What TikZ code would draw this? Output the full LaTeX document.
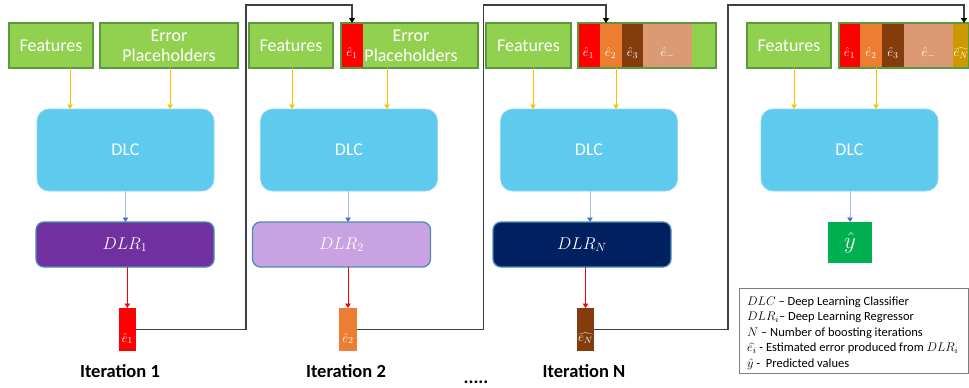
\RequirePackage{fix-cm}
\documentclass[tikz,border=0pt]{standalone}
\usepackage{fontspec}
\setmainfont{Carlito}
\usetikzlibrary{arrows.meta}
\definecolor{fgreen}{HTML}{92D050}
\definecolor{fborder}{HTML}{5A9A3A}
\definecolor{dlcblue}{HTML}{5DCAEE}
\definecolor{dlcedge}{HTML}{8ED9F3}
\definecolor{dlrborder}{HTML}{4A8CB4}
\definecolor{dlrone}{HTML}{7030A0}
\definecolor{dlrtwo}{HTML}{C8A2E2}
\definecolor{dlrn}{HTML}{002060}
\definecolor{ered}{HTML}{FF0000}
\definecolor{eorange}{HTML}{ED7D31}
\definecolor{ebrown}{HTML}{843C0C}
\definecolor{esalmon}{HTML}{DC9A74}
\definecolor{egold}{HTML}{CC9900}
\definecolor{ygreen}{HTML}{00B050}
\definecolor{yarrowc}{HTML}{FFC000}
\definecolor{bline}{HTML}{A9BEE6}
\definecolor{bhead}{HTML}{4472C4}
\definecolor{connc}{HTML}{404040}
\definecolor{legedge}{HTML}{7F7F7F}
\tikzset{
  feat/.style={rectangle, fill=fgreen, draw=fborder, line width=1.3pt, text=white,
    font=\fontsize{18}{20}\selectfont, inner sep=0pt, outer sep=0pt, minimum height=45pt},
  ftext/.style={text=white, font=\fontsize{18}{20}\selectfont, inner sep=0pt},
  dlc/.style={rectangle, rounded corners=12pt, fill=dlcblue, draw=dlcedge, line width=0.8pt,
    text=white, font=\fontsize{18}{20}\selectfont, minimum width=177pt, minimum height=82pt,
    inner sep=0pt, outer sep=0pt},
  dlr/.style={rectangle, rounded corners=8pt, draw=dlrborder, line width=1.3pt, text=white,
    font=\fontsize{17}{19}\selectfont, minimum width=178pt, minimum height=45pt,
    inner sep=0pt, outer sep=0pt},
  ebox/.style={rectangle, inner sep=0pt, outer sep=0pt, minimum width=17.5pt, minimum height=43pt},
  elab/.style={text=white, font=\fontsize{13}{14}\selectfont, inner sep=0pt},
  yarr/.style={draw=yarrowc, line width=0.9pt, -{Triangle[width=5.5pt,length=4.5pt]}},
  barr/.style={draw=bline, line width=0.9pt, -{Triangle[width=5.5pt,length=4.5pt,color=bhead]}},
  rarr/.style={draw=ered, line width=0.9pt, -{Triangle[width=5.5pt,length=4.5pt]}},
  conn/.style={draw=connc, line width=1.2pt, -{Triangle[width=6pt,length=5pt,color=black]}},
  iter/.style={font=\bfseries\fontsize{18.5}{20}\selectfont, anchor=base, inner sep=0pt}
}
\begin{document}
\begin{tikzpicture}[x=1pt,y=-1pt]
\useasboundingbox (0,0) rectangle (969,388);

% ---------- Iteration 1
\node[feat,minimum width=84pt] (f1) at (51,45.5) {Features};
\node[feat,minimum width=138pt,align=center] (err1) at (169,45.5) {Error\\Placeholders};
\node[dlc] (d1) at (125.5,150) {DLC};
\node[dlr,fill=dlrone] (r1) at (125,244.5) {$DLR_1$};
\node[ebox,fill=ered] (e1) at (127.3,329.5) {};
\node[elab] (e1l) at ([yshift=-9pt]e1.center) {$\hat{e}_1$};
\node[iter] (it1) at (120,377) {Iteration 1};

\draw[yarr] ([xshift=19pt]f1.south) -- ([xshift=19pt]f1.south |- d1.north);
\draw[yarr] ([xshift=1pt]err1.south) -- ([xshift=1pt]err1.south |- d1.north);
\draw[barr] (d1.south) -- (d1.south |- r1.north);
\draw[rarr] (e1.north |- r1.south) -- (e1.north);

% ---------- Iteration 2
\node[feat,minimum width=84pt] (f2) at (291,45.5) {Features};
\node[feat,minimum width=137pt] (err2) at (409.5,45.5) {};
\fill[ered] ([shift={(0.65,0.65)}]err2.north west) rectangle ([shift={(22,-0.65)}]err2.south west);
\node[elab] (s21) at (352,53) {$\hat{e}_1$};
\node[ftext,align=center] (err2t) at ([xshift=1.5pt]err2.center) {Error\\Placeholders};
\node[dlc] (d2) at (349,150) {DLC};
\node[dlr,fill=dlrtwo] (r2) at (341.5,244.5) {$DLR_2$};
\node[ebox,fill=eorange] (e2) at (348,329.5) {};
\node[elab] (e2l) at ([yshift=-9pt]e2.center) {$\hat{e}_2$};
\node[iter] (it2) at (346,377) {Iteration 2};

\draw[yarr] ([xshift=1pt]f2.south) -- ([xshift=1pt]f2.south |- d2.north);
\draw[yarr] ([xshift=-22.5pt]err2.south) -- ([xshift=-22.5pt]err2.south |- d2.north);
\draw[barr] ([xshift=-1pt]d2.south) -- ([xshift=-1pt]d2.south |- r2.north);
\draw[rarr] (e2.north |- r2.south) -- (e2.north);

% ---------- Iteration N
\node[feat,minimum width=85pt] (f3) at (528.5,45.5) {Features};
\node[feat,minimum width=138pt] (err3) at (647,45.5) {};
\fill[ered] ([shift={(0.65,0.65)}]err3.north west) rectangle ([shift={(21.5,-0.65)}]err3.south west);
\fill[eorange] ([shift={(21.5,0.65)}]err3.north west) rectangle ([shift={(44,-0.65)}]err3.south west);
\fill[ebrown] ([shift={(44,0.65)}]err3.north west) rectangle ([shift={(65,-0.65)}]err3.south west);
\fill[esalmon] ([shift={(65,0.65)}]err3.north west) rectangle ([shift={(114,-0.65)}]err3.south west);
\node[elab] (s31) at (588.5,53) {$\hat{e}_1$};
\node[elab] (s32) at (610.5,53) {$\hat{e}_2$};
\node[elab] (s33) at (632.5,53) {$\hat{e}_3$};
\node[elab] (s34) at (667.5,53) {$\hat{e}_{-}$};
\node[dlc] (d3) at (589,150) {DLC};
\node[dlr,fill=dlrn] (r3) at (582,244.5) {$DLR_N$};
\node[ebox,fill=ebrown] (e3) at (585.5,329.5) {};
\node[elab] (e3l) at ([yshift=-9pt]e3.center) {$\widehat{e_N}$};
\node[iter] (it3) at (584,377) {Iteration N};
\node[iter] (dots) at (476,383) {.....};

\draw[yarr] ([xshift=4.5pt]f3.south) -- ([xshift=4.5pt]f3.south |- d3.north);
\draw[yarr] ([xshift=-31pt]err3.south) -- ([xshift=-31pt]err3.south |- d3.north);
\draw[barr] ([xshift=1pt]d3.south) -- ([xshift=1pt]d3.south |- r3.north);
\draw[rarr] (e3.north |- r3.south) -- (e3.north);

% ---------- Final
\node[feat,minimum width=84pt] (f4) at (789,45.5) {Features};
\node[feat,minimum width=130pt] (err4) at (904,45.5) {};
\fill[ered] ([shift={(0.65,0.65)}]err4.north west) rectangle ([shift={(21,-0.65)}]err4.south west);
\fill[eorange] ([shift={(21,0.65)}]err4.north west) rectangle ([shift={(43,-0.65)}]err4.south west);
\fill[ebrown] ([shift={(43,0.65)}]err4.north west) rectangle ([shift={(65,-0.65)}]err4.south west);
\fill[esalmon] ([shift={(65,0.65)}]err4.north west) rectangle ([shift={(114,-0.65)}]err4.south west);
\fill[egold] ([shift={(114,0.65)}]err4.north west) rectangle ([shift={(-0.65,-0.65)}]err4.south east);
\node[elab] (s41) at (849.5,53) {$\hat{e}_1$};
\node[elab] (s42) at (871,53) {$\hat{e}_2$};
\node[elab] (s43) at (893,53) {$\hat{e}_3$};
\node[elab] (s44) at (928.5,53) {$\hat{e}_{-}$};
\node[elab] (s45) at (961,53) {$\widehat{e_N}$};
\node[dlc] (d4) at (849.5,150) {DLC};
\node[rectangle, fill=ygreen, text=white, inner sep=0pt, outer sep=0pt, minimum width=44pt,
  minimum height=41pt, font=\fontsize{23}{25}\selectfont] (yh) at (850,242.5) {$\hat{y}$};

\draw[yarr] ([xshift=5pt]f4.south) -- ([xshift=5pt]f4.south |- d4.north);
\draw[yarr] ([xshift=-28pt]err4.south) -- ([xshift=-28pt]err4.south |- d4.north);
\draw[barr] (yh.north |- d4.south) -- (yh.north);

% ---------- Connectors
\draw[conn] (e1.east) -| (246,5) -| ([xshift=-57.5pt]err2.north);
\draw[conn] (e2.east) -| (483.5,5) -| ([xshift=-41pt]err3.north);
\draw[conn] (e3.east) -| (728,5) -| ([xshift=60pt]err4.north);

% ---------- Legend
\node[rectangle, draw=legedge, line width=1pt, fill=white, inner sep=0pt, outer sep=0pt,
  minimum width=229pt, minimum height=85pt] (legend) at (853.5,330.5) {};
\node[anchor=west, align=left, inner sep=0pt, font=\fontsize{12.5}{15.5}\selectfont]
  (legtext) at ([shift={(8pt,-2.5pt)}]legend.west)
  {$DLC$ -- Deep Learning Classifier\\
   $DLR_i$-- Deep Learning Regressor\\
   $N$ -- Number of boosting iterations\\
   $\widehat{e_i}$ - Estimated error produced from $DLR_i$\\
   $\hat{y}$ -\ \ Predicted values};
\end{tikzpicture}
\end{document}
